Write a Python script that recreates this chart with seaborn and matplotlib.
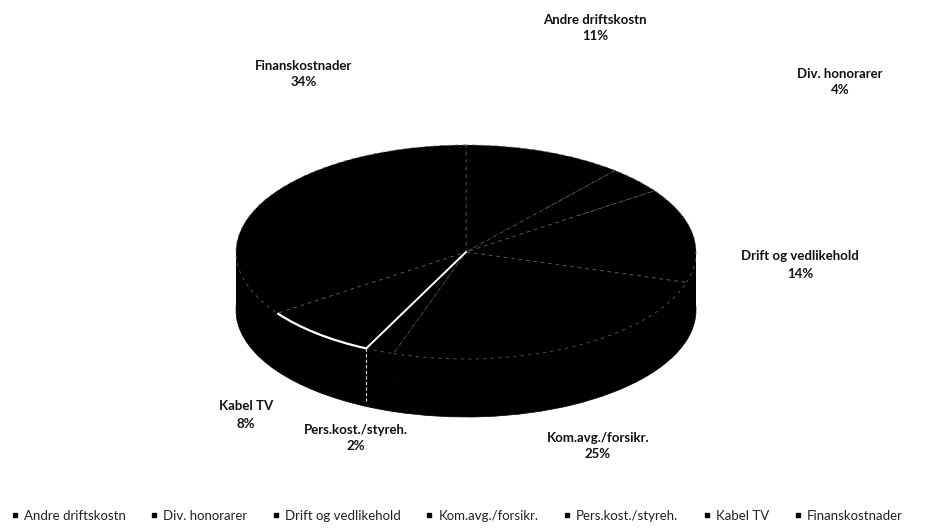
import matplotlib
matplotlib.use("Agg")
import matplotlib.pyplot as plt
from matplotlib.lines import Line2D
from matplotlib.patches import Rectangle, Arc
import numpy as np
import seaborn as sns

# cost categories and their share (%)
categories = ["Andre driftskostn", "Div. honorarer", "Drift og vedlikehold",
              "Kom.avg./forsikr.", "Pers.kost./styreh.", "Kabel TV", "Finanskostnader"]
shares = [11, 4, 14, 25, 2, 8, 34]

# label anchor points in figure pixels (x, y from top)
label_pos = [(595, 28), (840, 82), (800, 265), (598, 446),
             (356, 438), (246, 415), (304, 74)]

sns.set_theme(style="white")
plt.rcParams["font.family"] = ["Lato", "DejaVu Sans"]

W, H = 925, 529
fig = plt.figure(figsize=(W / 100, H / 100), dpi=100)
ax = fig.add_axes([0, 0, 1, 1])

# pie geometry in pixels
cx, cy = 466, 252
rx, ry = 230, 107
thick = 58 / ry

# side of the 3D pie
ax.pie(shares, startangle=90, counterclock=False, center=(0, -thick),
       colors=["black"] * len(shares), wedgeprops=dict(edgecolor="black", linewidth=0.5),
       frame=True)
ax.add_patch(Rectangle((-1, -thick), 2, thick, facecolor="black", edgecolor="none", zorder=0.5))

# top face
wedges, _ = ax.pie(shares, startangle=90, counterclock=False,
                   colors=["black"] * len(shares),
                   wedgeprops=dict(edgecolor="#5a5a5a", linewidth=0.6, linestyle=(0, (4, 5))),
                   frame=True)
for w in wedges:
    w.set_zorder(2)

# highlighted edge on the Kabel TV slice
kab = wedges[5]
a = np.deg2rad(kab.theta2)
ax.plot([0, np.cos(a)], [0, np.sin(a)], color="white", lw=1.4, zorder=3)
ax.add_patch(Arc((0, 0), 2, 2, theta1=kab.theta1, theta2=kab.theta2,
                 color="white", lw=1.6, zorder=3))
ax.plot([np.cos(a), np.cos(a)], [np.sin(a), np.sin(a) - thick * 0.9],
        color="#dddddd", lw=0.8, linestyle=(0, (3, 2)), zorder=3)

ax.set_aspect("auto")
ax.set_xlim(-cx / rx, (W - cx) / rx)
ax.set_ylim(-(H - cy) / ry, cy / ry)
ax.axis("off")

for name, val, (px, py) in zip(categories, shares, label_pos):
    fig.text(px / W, 1 - py / H, f"{name}\n{val}%", ha="center", va="center",
             fontsize=9.5, fontweight="bold", color="#111111", linespacing=1.5)

handles = [Line2D([], [], marker="s", ls="", color="black", markersize=3.5) for _ in categories]
fig.legend(handles, categories, loc="center", bbox_to_anchor=(456 / W, 1 - 516 / H),
           ncol=len(categories), frameon=False, fontsize=9.5, handletextpad=0.3,
           columnspacing=1.75, handlelength=0.8, labelcolor="#222222")

fig.savefig("out.png", dpi=100)
